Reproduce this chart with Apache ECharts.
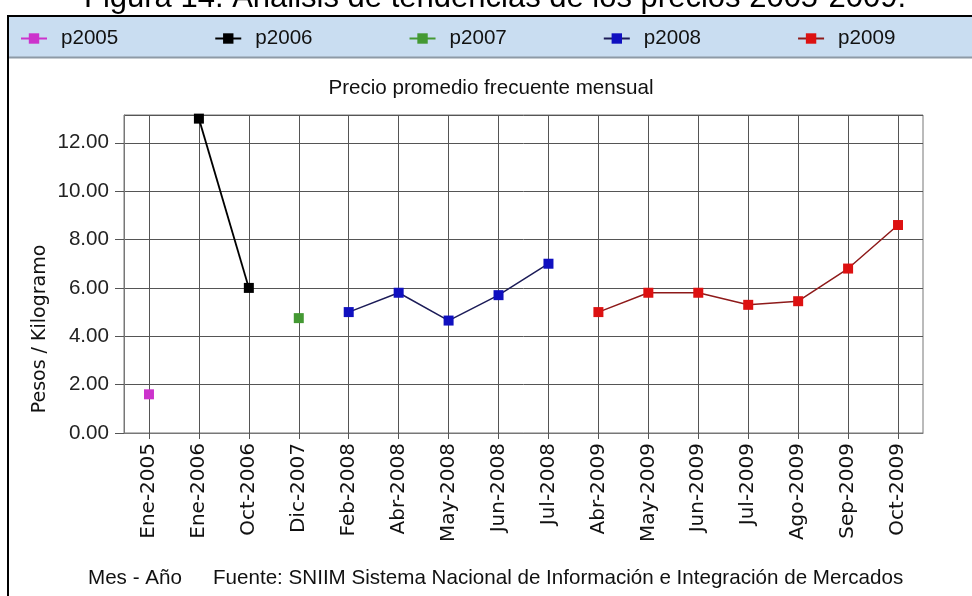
<!DOCTYPE html>
<html>
<head>
<meta charset="utf-8">
<script src="https://cdn.jsdelivr.net/npm/echarts@6/dist/echarts.min.js"></script>
<style>
  html, body { margin: 0; padding: 0; background: #fff; }
  #chart { width: 972px; height: 596px; }
</style>
</head>
<body>
<div id="chart"></div>
<script>
// categories on the x axis (mes - año)
const months = ['Ene-2005', 'Ene-2006', 'Oct-2006', 'Dic-2007', 'Feb-2008', 'Abr-2008', 'May-2008',
  'Jun-2008', 'Jul-2008', 'Abr-2009', 'May-2009', 'Jun-2009', 'Jul-2009', 'Ago-2009', 'Sep-2009', 'Oct-2009'];

// one pair of arrays per year: months it covers and the price for each
const p2005Months = ['Ene-2005'];
const p2005Values = [1.6];
const p2006Months = ['Ene-2006', 'Oct-2006'];
const p2006Values = [13.0, 6.0];
const p2007Months = ['Dic-2007'];
const p2007Values = [4.75];
const p2008Months = ['Feb-2008', 'Abr-2008', 'May-2008', 'Jun-2008', 'Jul-2008'];
const p2008Values = [5.0, 5.8, 4.65, 5.7, 7.0];
const p2009Months = ['Abr-2009', 'May-2009', 'Jun-2009', 'Jul-2009', 'Ago-2009', 'Sep-2009', 'Oct-2009'];
const p2009Values = [5.0, 5.8, 5.8, 5.3, 5.45, 6.8, 8.6];

const yTicks = [0, 2, 4, 6, 8, 10, 12];

const FONT = 'Liberation Sans';

function pairs(ms, vs) {
  return ms.map((m, i) => [m, vs[i]]);
}

function lineSeries(name, ms, vs, color, lineColor, width) {
  return {
    name: name,
    type: 'line',
    data: pairs(ms, vs),
    symbol: 'rect',
    symbolSize: 10,
    itemStyle: { color: color },
    lineStyle: { color: lineColor, width: width || 1.5 },
    emphasis: { disabled: true }
  };
}

const chart = echarts.init(document.getElementById('chart'));

const option = {
  animation: false,
  backgroundColor: '#fff',
  textStyle: { fontFamily: FONT },
  graphic: [
    {
      type: 'rect', z: -2,
      shape: { x: 8, y: 16, width: 1000, height: 700 },
      style: { fill: '#fff', stroke: '#000', lineWidth: 2 }
    },
    {
      type: 'rect', z: -1,
      shape: { x: 9, y: 17, width: 990, height: 40 },
      style: { fill: '#c9ddf1' }
    },
    {
      type: 'line', z: -1,
      shape: { x1: 9, y1: 57.5, x2: 972, y2: 57.5 },
      style: { stroke: '#8d9aa6', lineWidth: 2 }
    },
    {
      type: 'text', x: 495, y: -2,
      style: {
        text: 'Figura 14. Análisis de tendencias de los precios 2005-2009.',
        font: '31px "Liberation Sans"', fill: '#000', align: 'center', verticalAlign: 'middle'
      }
    },
    {
      type: 'text', x: 491, y: 88,
      style: {
        text: 'Precio promedio frecuente mensual',
        font: '20.6px "Liberation Sans"', fill: '#111', align: 'center', verticalAlign: 'middle'
      }
    },
    {
      type: 'text', x: 40, y: 329, rotation: Math.PI / 2,
      style: {
        text: 'Pesos / Kilogramo',
        font: '19px "DejaVu Sans"', fill: '#111', align: 'center', verticalAlign: 'middle'
      }
    },
    {
      type: 'text', x: 88, y: 578,
      style: {
        text: 'Mes - Año',
        font: '20.6px "Liberation Sans"', fill: '#111', align: 'left', verticalAlign: 'middle'
      }
    },
    {
      type: 'text', x: 213, y: 578,
      style: {
        text: 'Fuente: SNIIM Sistema Nacional de Información e Integración de Mercados',
        font: '20.6px "Liberation Sans"', fill: '#111', align: 'left', verticalAlign: 'middle'
      }
    }
  ],
  legend: {
    left: 20,
    top: 28,
    padding: 0,
    itemGap: 96,
    itemWidth: 26,
    itemHeight: 13,
    selectedMode: false,
    textStyle: { fontFamily: FONT, fontSize: 20.6, color: '#111', padding: [0, 0, 0, 9] },
    data: ['p2005', 'p2006', 'p2007', 'p2008', 'p2009']
  },
  grid: {
    left: 124,
    top: 115,
    width: 799,
    height: 318,
    show: true,
    borderColor: '#777',
    borderWidth: 1,
    backgroundColor: 'transparent',
    outerBoundsMode: 'none'
  },
  xAxis: {
    type: 'category',
    data: months,
    boundaryGap: true,
    axisLine: { show: true, lineStyle: { color: '#777' } },
    axisTick: { show: true, alignWithLabel: true, length: 6, lineStyle: { color: '#555' } },
    splitLine: { show: true, alignWithLabel: true, lineStyle: { color: '#555', width: 1 } },
    axisLabel: {
      interval: 0,
      rotate: 90,
      margin: 10,
      fontFamily: 'DejaVu Sans',
      fontSize: 20,
      color: '#111'
    }
  },
  yAxis: {
    type: 'value',
    min: 0,
    max: 13.15,
    interval: 2,
    axisLine: { show: true, lineStyle: { color: '#777' } },
    axisTick: { show: true, length: 9, lineStyle: { color: '#555' } },
    splitLine: { show: true, lineStyle: { color: '#555', width: 1 } },
    axisLabel: {
      showMaxLabel: false,
      margin: 15,
      fontFamily: FONT,
      fontSize: 20.6,
      color: '#222',
      formatter: v => (yTicks.includes(v) ? v.toFixed(2) : '')
    }
  },
  series: [
    lineSeries('p2005', p2005Months, p2005Values, '#cc33cc', '#cc33cc'),
    lineSeries('p2006', p2006Months, p2006Values, '#000000', '#000000', 1.8),
    lineSeries('p2007', p2007Months, p2007Values, '#449933', '#449933'),
    lineSeries('p2008', p2008Months, p2008Values, '#1010c0', '#1c1c58'),
    lineSeries('p2009', p2009Months, p2009Values, '#dd1111', '#8e1a1a')
  ]
};

chart.setOption(option);
</script>
</body>
</html>
